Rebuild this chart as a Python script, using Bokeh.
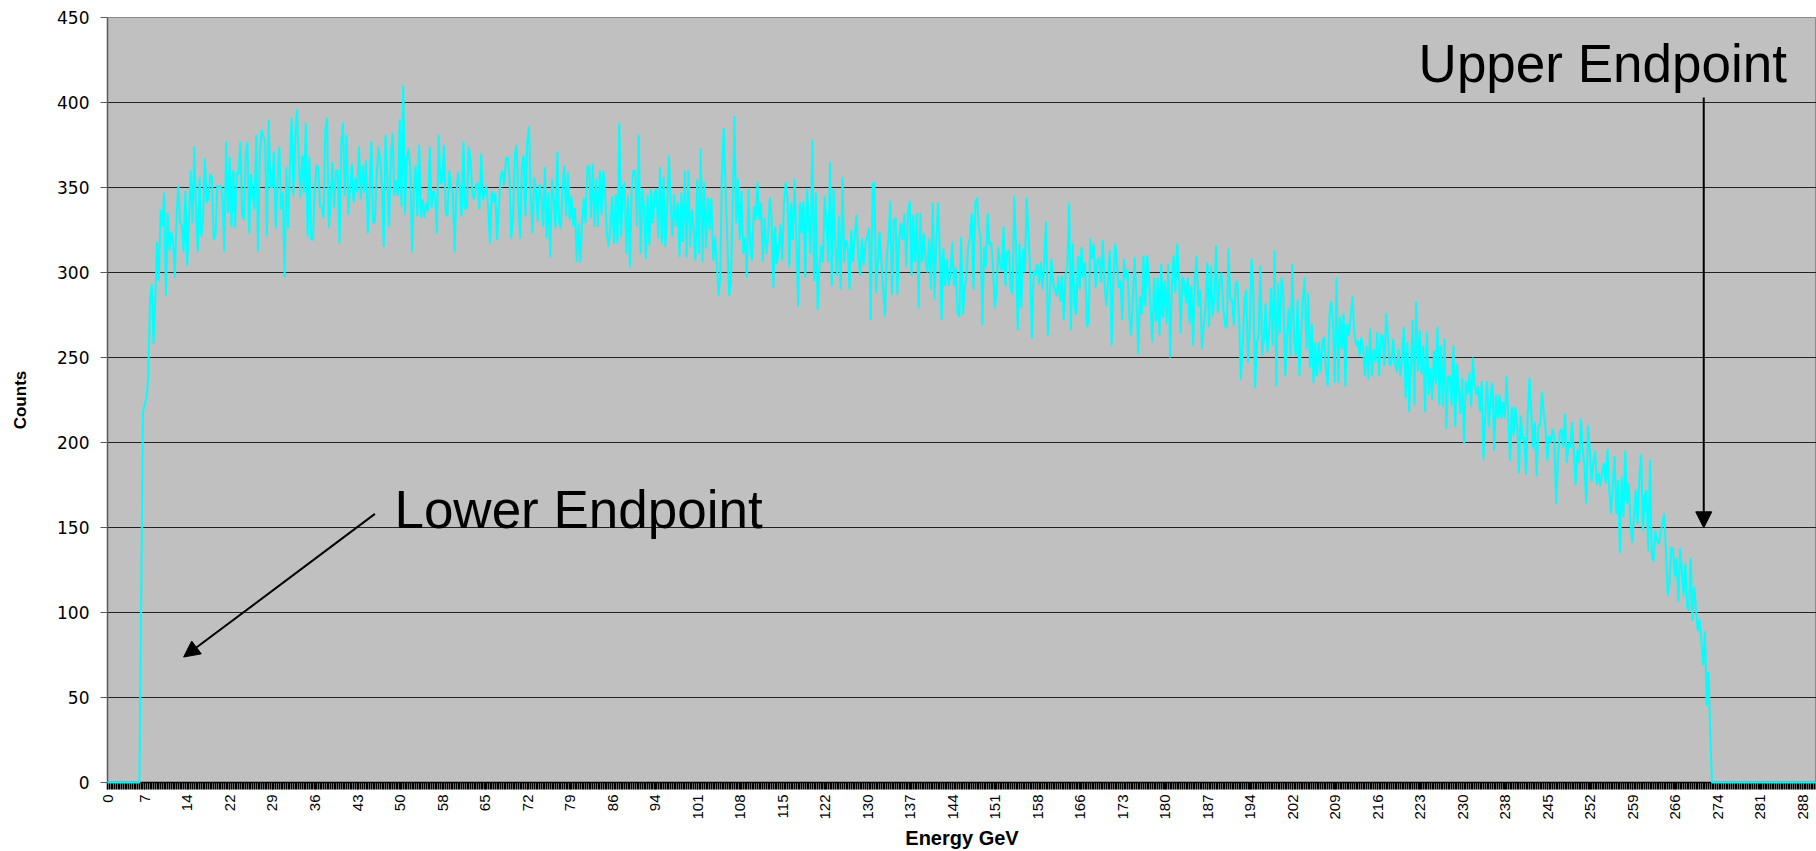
import numpy as np
from bokeh.plotting import figure
from bokeh.models import Range1d, FixedTicker, Label, Arrow, NormalHead
from bokeh.embed import file_html
from bokeh.resources import INLINE

# ---------------- data ----------------
BIN_WIDTH_GEV = 0.3          # width of one energy bin
N_BINS = 966                 # bins shown on the axis (0 ... 289.5 GeV)

lead_zeros = [0] * 19
rise = [105, 218, 222, 226, 238, 283, 293]

seg_b = [
    258, 284, 318, 295, 337, 327, 347, 286, 335, 313,
    324, 319, 297, 332, 351, 329, 328, 312, 348, 304,
    331, 360, 329, 374, 335, 312, 356, 321, 331, 367,
    341, 343, 358, 356, 319, 322, 351, 350, 351, 343,
    312, 377, 335, 368, 327, 360, 326, 359, 358, 377,
    335, 331, 368, 377, 323, 358, 347, 337, 381, 312,
    368, 384, 380, 377, 321, 390, 350, 350, 371, 326,
    353, 374, 337, 347, 297, 362, 326, 364, 391, 345,
    378, 396, 366, 344, 369, 347, 388, 321, 368, 320,
    319, 347, 363, 362, 339, 339, 332, 384, 391, 326,
    342, 365, 338, 360, 360, 317, 376, 388, 345, 381,
    334, 350, 364, 341, 356, 347, 374, 343, 363, 347,
    366, 323, 349, 377, 329, 330, 356, 374, 366, 350,
    315, 381, 356, 327, 368, 382, 345, 354, 345, 390,
    339, 410, 334, 366, 373, 362, 312, 348, 363, 333,
    375, 332, 343, 332, 341, 336, 374, 338, 348, 345,
    323, 381, 352, 354, 375, 335, 333, 360, 350, 347,
    312, 347, 359, 350, 333, 377, 337, 338, 374, 366,
    347, 343, 350, 353, 337, 370, 343, 347, 351, 337,
    317, 348, 341, 347, 319, 339, 356, 360, 351, 367,
    368, 356, 320, 333, 369, 375, 341, 320, 362, 369,
    333, 376, 386, 345, 323, 356, 347, 330, 352,
]

seg_c = [
    345, 327, 362, 320, 347, 309, 355, 343, 326, 371,
    329, 326, 351, 363, 333, 359, 331, 345, 327, 338,
    306, 329, 306, 330, 344, 329, 362, 363, 332, 364,
    327, 355, 327, 360, 334, 360, 346, 323,
    315, 327, 345, 317, 346, 317, 388, 321, 349, 353, 311, 345,
    303, 349, 360, 360, 327, 381, 311, 349, 337, 308, 346, 316,
    349, 329, 347, 349, 320, 362, 317, 356, 315, 337, 369, 341,
    321, 346, 327, 341, 309, 347, 318, 360, 309, 360, 315, 337,
    325, 307, 355, 311, 373, 306, 353, 314, 344, 325, 344, 307,
    321, 306, 286, 297, 362, 385, 349, 319, 286, 295, 338, 392,
    329, 355, 319, 348, 311, 321, 297, 349, 313, 307, 339, 331,
    353, 331, 341, 306, 332, 311, 321, 344, 332, 291, 327, 305,
    313, 328, 307, 341, 353, 344, 303, 341, 319, 355, 319, 280,
    341, 323, 342, 297, 349, 329, 311, 378, 295, 347, 278, 302,
    316, 306, 345, 329, 306, 365, 292, 349, 315, 298, 333, 290,
    356, 306, 319, 315, 290, 325, 306, 323, 334, 309, 298, 320,
    304, 317, 321, 326, 272, 352, 353, 288, 306, 324, 306, 290,
    274, 309, 319, 342, 287, 331, 332, 287, 319, 329, 319, 335,
    303, 335, 342, 298, 334, 306, 335, 279, 335, 306, 323, 306,
    300, 320, 290, 341, 284, 317, 341, 313, 272, 314, 292, 308,
    292, 299, 318, 292, 303, 276, 274, 321, 275, 290, 298, 315,
    321,
]

seg_d = [
    335, 290, 341, 344, 326, 321, 269, 315, 303, 335, 316, 318,
    304, 279, 288, 315, 305, 301, 327, 292, 312, 313, 291, 287,
    345, 316, 266, 317, 279, 314, 300, 344, 323, 302, 261, 301,
    298, 305, 293, 306, 290, 308, 330, 263, 284, 308, 294, 290,
    286, 298, 283, 298, 272, 299, 304, 341, 266, 317, 281, 275,
    310, 290, 315, 297, 306, 268, 271, 320, 308, 317, 291, 307,
    309, 294, 319, 294, 280, 295, 313, 257, 295, 317, 305, 291,
    295, 272, 308, 296, 302, 274, 263, 286, 309, 286, 252, 286,
    275, 310, 280, 310, 298, 279, 259, 297, 271, 297, 263, 305,
    273, 295, 270, 305, 250, 292, 310, 288, 317, 298, 264, 298,
    294, 282, 297, 270, 292, 257, 296, 310, 280, 290, 255, 268,
    280, 306, 268, 304, 274, 284, 316, 276, 295, 300, 280, 269,
    267, 314, 284, 284, 269, 293, 295, 271, 237, 257, 283, 290,
    247, 267, 308, 290, 232, 259, 263, 304, 251, 261, 282, 253,
    266, 291, 257, 313, 233, 294, 264, 297, 286, 239, 261, 279,
    251, 305, 261, 251, 284, 239, 263, 284, 297, 255, 288, 244,
    270, 235, 259, 239, 259, 241, 259, 262, 243, 233, 275, 283,
    270, 235, 297, 235, 274, 255, 276, 233, 270, 263, 274, 286,
    265, 257, 260, 251, 262, 255, 239, 257, 237, 267, 239, 255,
    247, 265, 239, 263, 263, 245, 276, 263, 245, 247, 261, 247,
    241, 255, 239,
]

seg_e = [
    250, 268, 226, 259, 218, 244, 272, 222, 283, 242, 266, 240,
    257, 218, 265, 228, 244, 225, 254, 234, 268, 222, 257, 221,
    261, 208, 239, 239, 222, 257, 209, 246, 232, 217, 238, 199,
    236, 228, 241, 221, 250, 234, 228, 233, 218, 236, 190, 218,
    236, 209, 228, 235, 195, 228, 214, 228, 214, 224, 214, 239,
    214, 189, 221, 204, 221, 210, 182, 216, 202, 203, 181, 217,
    238, 217, 196, 212, 180, 210, 210, 230, 218, 208, 189, 204,
    200, 208, 202, 164, 190, 205, 208, 197, 217, 188, 200, 197,
    212, 193, 175, 196, 188, 214, 196, 185, 164, 210, 196, 177,
    188, 195, 175, 182, 174, 183, 188, 176, 196, 171, 158, 176,
    192, 158, 178, 135, 180, 156, 195, 164, 176, 152, 141, 158,
    172, 152, 180, 193, 148, 168, 172, 136, 190, 134, 130, 148,
    142, 140, 147, 153, 158, 136, 110, 117, 138, 138, 121, 132,
    106, 138, 124, 110, 129, 103, 101, 132, 95, 115, 101, 89,
    96, 83, 69, 89, 45, 65, 29,
]

counts = lead_zeros + rise + seg_b + seg_c + seg_d + seg_e
counts = counts + [0] * (N_BINS - len(counts))
energy = np.arange(len(counts)) * BIN_WIDTH_GEV

# category-axis labels (every 24 bins = 7.2 GeV)
x_tick_labels = ["0", "7", "14", "22", "29", "36", "43", "50", "58", "65",
                 "72", "79", "86", "94", "101", "108", "115", "122", "130",
                 "137", "144", "151", "158", "166", "173", "180", "187",
                 "194", "202", "209", "216", "223", "230", "238", "245",
                 "252", "259", "266", "274", "281", "288"]
LABEL_STEP_BINS = 24
LABEL_SHIFT_GEV = -0.85      # the original category labels sit slightly left of their bins
y_ticks = [0, 50, 100, 150, 200, 250, 300, 350, 400, 450]

# annotations (data units: GeV, counts)
upper_text = ("Upper Endpoint", 222.1, 423.0)
lower_text = ("Lower Endpoint", 48.6, 160.4)
upper_arrow = (270.4, 403.0, 270.4, 149.8)
lower_arrow = (45.3, 158.0, 12.9, 73.8)

# ---------------- figure ----------------
x_max = N_BINS * BIN_WIDTH_GEV - 0.3
p = figure(width=1816, height=851,
           x_range=Range1d(0, x_max), y_range=Range1d(0, 450),
           output_backend="svg", toolbar_location=None,
           min_border_left=107, min_border_right=0,
           min_border_top=17, min_border_bottom=68,
           background_fill_color="#C0C0C0", border_fill_color="white")

p.line(energy, counts, line_color="#00FFFF", line_width=2, level="overlay")

# grid
p.xgrid.visible = False
p.ygrid.ticker = FixedTicker(ticks=y_ticks[1:-1])
p.ygrid.grid_line_color = "#222222"
p.ygrid.grid_line_width = 1
p.outline_line_color = "#8c8c8c"
p.outline_line_width = 1

# y axis
p.yaxis.ticker = FixedTicker(ticks=y_ticks)
p.yaxis.axis_line_color = "#5a5a5a"
p.yaxis.axis_line_width = 1.5
p.yaxis.major_tick_out = 7
p.yaxis.major_tick_in = 0
p.yaxis.minor_tick_out = 0
p.yaxis.minor_tick_in = 0
p.yaxis.major_tick_line_color = "#5a5a5a"
p.yaxis.major_label_standoff = 11
p.yaxis.major_label_text_font = "DejaVu Sans"
p.yaxis.major_label_text_font_size = "17px"
p.yaxis.major_label_text_color = "black"
p.yaxis.axis_label = "Counts"
p.yaxis.axis_label_text_font = "Liberation Sans"
p.yaxis.axis_label_text_font_style = "bold"
p.yaxis.axis_label_text_font_size = "17px"
p.yaxis.axis_label_text_color = "black"
p.yaxis.axis_label_standoff = 24

# x axis (category style)
tick_pos = [max(0.0, round(i * LABEL_STEP_BINS * BIN_WIDTH_GEV + LABEL_SHIFT_GEV, 4))
            for i in range(len(x_tick_labels))]
minor_pos = [round(i * BIN_WIDTH_GEV, 4) for i in range(N_BINS)]
p.xaxis.ticker = FixedTicker(ticks=tick_pos, minor_ticks=minor_pos)
p.xaxis.major_label_overrides = {t: s for t, s in zip(tick_pos, x_tick_labels)}
p.xaxis.major_label_orientation = np.pi / 2
p.xaxis.axis_line_color = "black"
p.xaxis.axis_line_width = 1.5
p.xaxis.major_tick_out = 7
p.xaxis.major_tick_in = 0
p.xaxis.minor_tick_out = 7
p.xaxis.minor_tick_in = 0
p.xaxis.major_tick_line_color = "black"
p.xaxis.minor_tick_line_color = "black"
p.xaxis.minor_tick_line_width = 1.6
p.xaxis.major_label_standoff = 5
p.xaxis.major_label_text_font = "Liberation Sans"
p.xaxis.major_label_text_font_size = "15px"
p.xaxis.major_label_text_color = "black"
p.xaxis.axis_label = "Energy GeV"
p.xaxis.axis_label_text_font = "Liberation Sans"
p.xaxis.axis_label_text_font_style = "bold"
p.xaxis.axis_label_text_font_size = "20px"
p.xaxis.axis_label_text_color = "black"
p.xaxis.axis_label_standoff = 4

# annotations
for txt, tx, ty in (upper_text, lower_text):
    p.add_layout(Label(x=tx, y=ty, text=txt, text_font="Liberation Sans",
                       text_font_size="53px", text_color="black",
                       text_align="left", text_baseline="alphabetic"))

for xs, ys, xe, ye in (upper_arrow, lower_arrow):
    p.add_layout(Arrow(x_start=xs, y_start=ys, x_end=xe, y_end=ye,
                       line_color="black", line_width=2,
                       end=NormalHead(size=16, fill_color="black",
                                      line_color="black")))

open("out.html", "w").write(file_html(p, INLINE))
